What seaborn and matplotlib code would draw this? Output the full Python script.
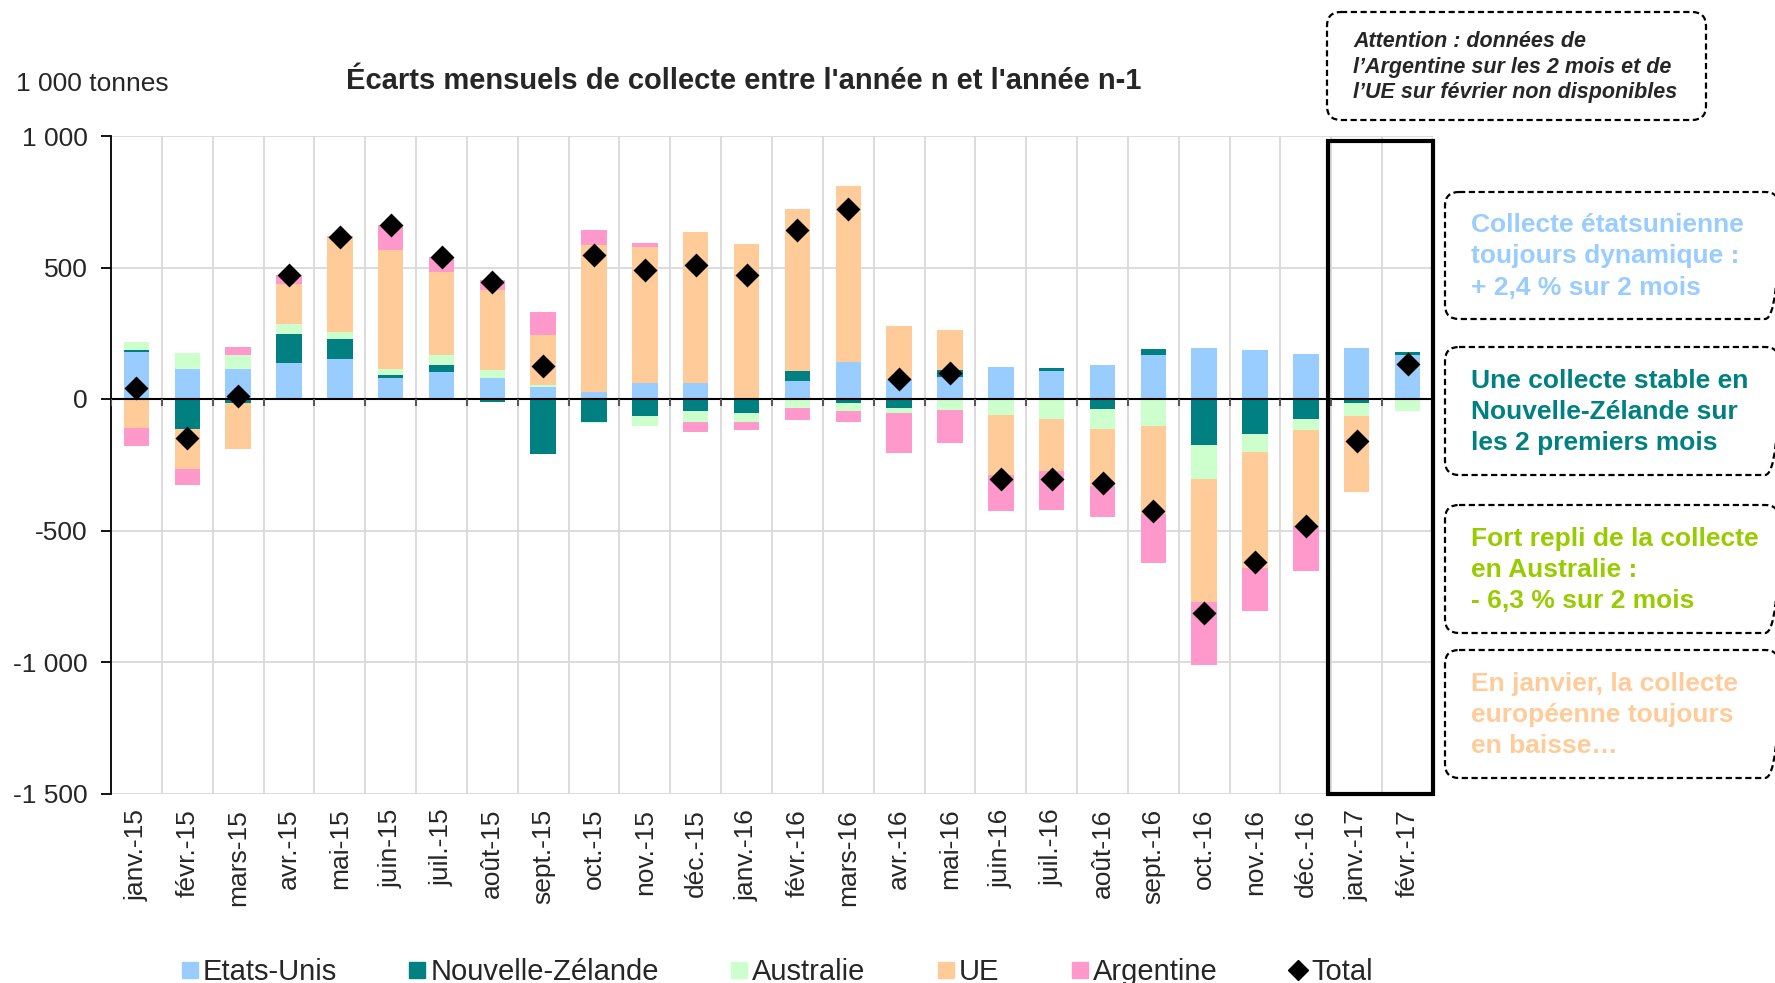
import numpy as np
import pandas as pd
import matplotlib
matplotlib.use("Agg")
import matplotlib.pyplot as plt
import matplotlib.transforms as mtransforms
from matplotlib.patches import FancyBboxPatch, Rectangle
from matplotlib.lines import Line2D
import seaborn as sns

# ---------------- data (1 000 tonnes) ----------------
months = ["janv.-15", "févr.-15", "mars-15", "avr.-15", "mai-15", "juin-15",
          "juil.-15", "août-15", "sept.-15", "oct.-15", "nov.-15", "déc.-15",
          "janv.-16", "févr.-16", "mars-16", "avr.-16", "mai-16", "juin-16",
          "juil.-16", "août-16", "sept.-16", "oct.-16", "nov.-16", "déc.-16",
          "janv.-17", "févr.-17"]
etats_unis = [180, 115, 114, 137, 151, 81, 103, 80, 47, 25, 61, 61, 2, 68, 142,
              71, 82, 120, 108, 129, 167, 194, 185, 170, 195, 168]
nouvelle_zelande = [8, -114, -15, 110, 77, 10, 27, -11, -208, -89, -65, -44, -53,
                    38, -14, -34, 28, 0, 10, -38, 25, -175, -134, -76, -16, 10]
australie = [29, 60, 52, 38, 27, 22, 38, 30, 6, -4, -37, -43, -34, -33, -33, -18,
             -41, -62, -76, -76, -103, -130, -67, -41, -48, -46]
ue = [-109, -152, -174, 152, 360, 455, 316, 305, 189, 560, 517, 573, 589, 616,
      667, 208, 152, -227, -197, -215, -333, -465, -441, -366, -291, np.nan]
argentine = [-68, -61, 33, 33, 3, 94, 56, 39, 87, 56, 15, -39, -32, -47, -39,
             -152, -125, -135, -149, -120, -186, -242, -165, -172, np.nan, np.nan]
total = [42, -148, 10, 473, 615, 662, 540, 444, 124, 548, 492, 511, 470, 643, 722,
         77, 98, -304, -305, -318, -427, -815, -619, -482, -158, 133]

series_names = ["Etats-Unis", "Nouvelle-Zélande", "Australie", "UE", "Argentine"]
series_colors = ["#99CCFF", "#008080", "#CCFFCC", "#FFCC99", "#FF99CC"]
yticks = [1000, 500, 0, -500, -1000, -1500]
ytick_labels = ["1 000", "500", "0", "-500", "-1 000", "-1 500"]
highlight_months = ["janv.-17", "févr.-17"]

title = "Écarts mensuels de collecte entre l'année n et l'année n-1"
unit_label = "1 000 tonnes"
note_text = "Attention : données de\nl’Argentine sur les 2 mois et de\nl’UE sur février non disponibles"
box_texts = ["Collecte étatsunienne\ntoujours dynamique :\n+ 2,4 % sur 2 mois",
             "Une collecte stable en\nNouvelle-Zélande sur\nles 2 premiers mois",
             "Fort repli de la collecte\nen Australie :\n- 6,3 % sur 2 mois",
             "En janvier, la collecte\neuropéenne toujours\nen baisse…"]
box_colors = ["#99CCFF", "#008080", "#99CC00", "#FFCC99"]

# ---------------- figure ----------------
sns.set_theme(style="white")
plt.rcParams["font.family"] = ["Liberation Sans", "DejaVu Sans"]

W, H = 1775, 983
fig = plt.figure(figsize=(W / 100, H / 100), dpi=100)
ax = fig.add_axes([111 / W, 1 - 793.5 / H, (1433 - 111) / W, (793.5 - 136) / H])
ax.set_axisbelow(True)

df = pd.DataFrame({"mois": months, "Etats-Unis": etats_unis,
                   "Nouvelle-Zélande": nouvelle_zelande, "Australie": australie,
                   "UE": ue, "Argentine": argentine, "Total": total})
vals = df[series_names].fillna(0).to_numpy(dtype=float)
pos = np.clip(vals, 0, None).cumsum(axis=1)
neg = np.clip(vals, None, 0).cumsum(axis=1)

# stacked bars (positive & negative stacks drawn as overlapping cumulative bars)
for i in range(len(series_names) - 1, -1, -1):
    for cum, mask in ((pos, vals[:, i] > 0), (neg, vals[:, i] < 0)):
        if not mask.any():
            continue
        h = np.where(mask, cum[:, i], np.nan)
        sns.barplot(x=df["mois"], y=h, order=months, color=series_colors[i],
                    saturation=1, width=0.5, errorbar=None, linewidth=0,
                    ax=ax, zorder=2)

sns.pointplot(x=df["mois"], y=df["Total"], order=months, color="black",
              markers="D", linestyles="none", errorbar=None, markersize=10,
              ax=ax, zorder=5)

n = len(months)
ax.set_xlim(-0.5, n - 0.5)
ax.set_ylim(min(yticks), max(yticks))
ax.set_yticks(yticks)
ax.set_yticklabels(ytick_labels)
ax.set_xticks(np.arange(n))
ax.set_xticklabels(months)
ax.set_xticks(np.arange(n + 1) - 0.5, minor=True)
ax.set_xlabel("")
ax.set_ylabel("")

grid_c = "#D9D9D9"
ax.yaxis.grid(True, color=grid_c, lw=1.3)
ax.xaxis.grid(False, which="major")
ax.xaxis.grid(True, which="minor", color=grid_c, lw=1.3)

for s in ["top", "right", "bottom"]:
    ax.spines[s].set_visible(False)
ax.spines["left"].set_color("black")
ax.spines["left"].set_linewidth(1.3)

ax.tick_params(axis="y", which="major", length=7, width=1.3, color="black",
               direction="out", labelsize=19, pad=10, left=True)
ax.tick_params(axis="x", which="both", length=0, labelsize=19, pad=11,
               labelrotation=90)

ax.axhline(0, color="black", lw=1.5, zorder=3)
ax.vlines(np.arange(n + 1) - 0.5, 0, -25, color="#595959", lw=1.5, zorder=3)

i0 = months.index(highlight_months[0])
rect_x0 = i0 - 0.57
rect_x1 = i0 - 0.5 + len(highlight_months)
rect_top = max(yticks) - 18
ax.add_patch(Rectangle((rect_x0, min(yticks)), rect_x1 - rect_x0,
                       rect_top - min(yticks), fill=False, ec="black",
                       lw=3, clip_on=False, zorder=6))

# legend
handles = [Line2D([], [], marker="s", ls="none", color=c, markersize=12)
           for c in series_colors]
handles.append(Line2D([], [], marker="D", ls="none", color="black", markersize=10))
fig.legend(handles, series_names + ["Total"], loc="center",
           bbox_to_anchor=(776 / W, 1 - 972 / H), ncol=6, frameon=False,
           fontsize=21, handlelength=0.7, handletextpad=0.1, columnspacing=2.4)

# titles
fig.text(743.5 / W, 1 - 81 / H, title, ha="center", va="center",
         fontsize=21, fontweight="bold")
fig.text(16 / W, 1 - 84 / H, unit_label, ha="left", va="center", fontsize=19)

# annotation boxes (pixel coordinates, origin top-left)
px = mtransforms.Affine2D().scale(1 / W, -1 / H).translate(0, 1) + fig.transFigure


def dashed_box(x0, y0, x1, y1):
    p = FancyBboxPatch((x0, y0), x1 - x0, y1 - y0,
                       boxstyle="round,pad=0,rounding_size=14",
                       fill=False, ec="black", lw=1.6,
                       linestyle=(0, (2.8, 1.6)), transform=px, clip_on=False)
    fig.add_artist(p)


dashed_box(1327, 12, 1706, 120)
fig.text(1353, 67, note_text, transform=px, ha="left", va="center",
         fontsize=15.5, fontweight="bold", fontstyle="italic",
         linespacing=1.27)

box_y = [(192, 319), (347, 475), (505, 633), (650, 778)]
for (y0, y1), txt, col in zip(box_y, box_texts, box_colors):
    dashed_box(1445, y0, 1779, y1)
    fig.text(1471, (y0 + y1) / 2 + 1, txt, transform=px, ha="left", va="center",
             fontsize=19, fontweight="bold", color=col, linespacing=1.37)

fig.savefig("out.png", dpi=100)
